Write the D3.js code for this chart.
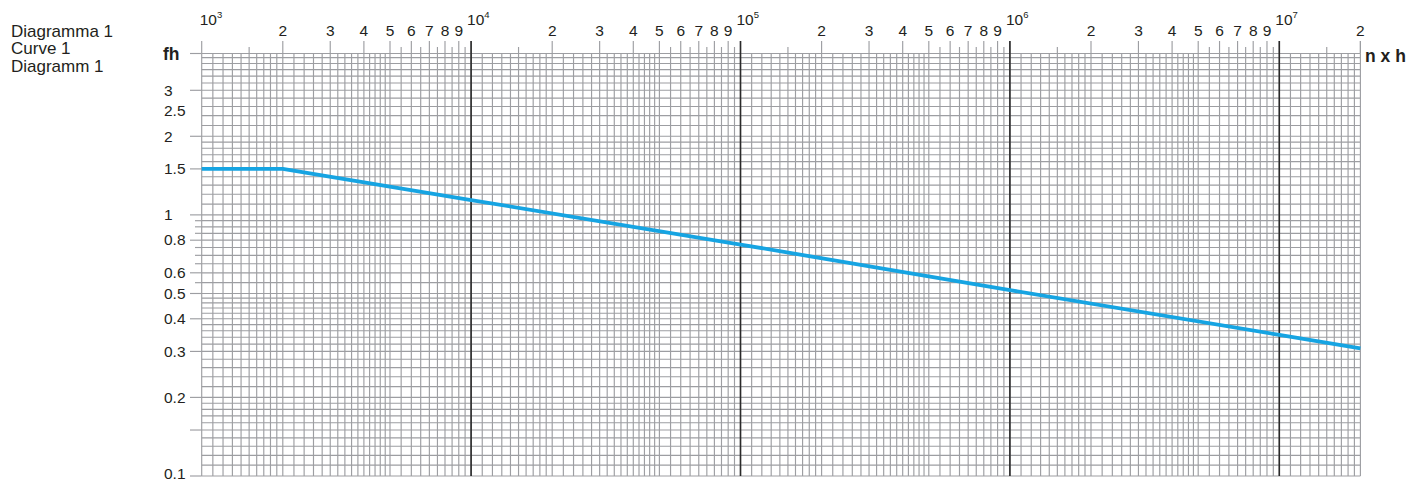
<!DOCTYPE html>
<html>
<head>
<meta charset="utf-8">
<script src="https://cdn.jsdelivr.net/npm/d3@7"></script>
<style>
  html, body { margin: 0; padding: 0; background: #fff; }
  svg { display: block; }
  text { font-family: "Liberation Sans", Arial, Helvetica, sans-serif; fill: #231f20; }
</style>
</head>
<body>
<svg id="chart" width="1424" height="482"></svg>
<script>
// ---- data ----
const titleLines = ["Diagramma 1", "Curve 1", "Diagramm 1"];
const xDecades = [3, 4, 5, 6, 7];
const xDigitLabels = [2, 3, 4, 5, 6, 7, 8, 9];
const xHalfTicks = [1.5, 5.5, 6.5, 7.5, 8.5, 9.5];
const xMin = 1e3, xMax = 2e7;
const yMin = 0.1, yMax = 4.15;
const yDecades = [-1, 0];
const yLabelValues = [3, 2.5, 2, 1.5, 1, 0.8, 0.6, 0.5, 0.4, 0.3, 0.2, 0.1];
const yLongTicks = [3, 2, 1.5, 1, 0.8, 0.6, 0.5, 0.4, 0.3, 0.2, 0.15, 0.1];
const yShortTicks = [0.95, 0.9, 0.85, 0.75, 0.7, 0.65, 0.55];
const curveN  = [1e3, 2e3, 1e4, 1e5, 1e6, 1e7, 2e7];
const curveFh = [1.5, 1.5, 1.14, 0.77, 0.515, 0.347, 0.308];
const yAxisTitle = "fh";
const xAxisTitle = "n x h";

// ---- layout ----
const svg = d3.select("#chart");
const x = d3.scaleLog().domain([xMin, xMax]).range([201.7, 1360.4]);
const y = d3.scaleLog().domain([yMin, yMax]).range([476, 53.5]);
const gridColor = "#9d9ea2";
const gridW = 1.15;

// mantissa subdivision rule of log paper (in tenths)
const mant = [];
for (let m = 10; m < 20; m += 1) mant.push(m);
for (let m = 20; m < 50; m += 2) mant.push(m);
for (let m = 50; m <= 100; m += 5) mant.push(m);

// horizontal grid
const hVals = [];
yDecades.forEach(d => mant.forEach(m => {
  const v = +(m / 10 * Math.pow(10, d)).toPrecision(6);
  if (v <= yMax * 1.0001 && !hVals.includes(v)) hVals.push(v);
}));
hVals.push(yMax);
const g = svg.append("g");
g.selectAll("line.h").data(hVals).join("line")
  .attr("x1", x(xMin)).attr("x2", x(xMax))
  .attr("y1", d => y(d)).attr("y2", d => y(d))
  .attr("stroke", gridColor).attr("stroke-width", gridW);

// vertical grid
const vVals = [];
xDecades.forEach(d => mant.forEach(m => {
  const v = +(m / 10 * Math.pow(10, d)).toPrecision(6);
  if (v <= xMax * 1.0001 && !vVals.includes(v)) vVals.push(v);
}));
g.selectAll("line.v").data(vVals).join("line")
  .attr("x1", d => x(d)).attr("x2", d => x(d))
  .attr("y1", y(yMax)).attr("y2", y(yMin))
  .attr("stroke", gridColor).attr("stroke-width", gridW);

// top ticks: integers long, halves short
const longX = [];
xDecades.forEach(d => {
  for (let k = 1; k <= 9; k++) { const v = k * Math.pow(10, d); if (v <= xMax * 1.0001) longX.push(v); }
});
longX.push(xMax);
g.selectAll("line.tl").data(longX).join("line")
  .attr("x1", d => x(d)).attr("x2", d => x(d))
  .attr("y1", 41).attr("y2", y(yMax))
  .attr("stroke", gridColor).attr("stroke-width", gridW);
const shortX = [];
xDecades.forEach(d => xHalfTicks.forEach(h => { const v = h * Math.pow(10, d); if (v <= xMax) shortX.push(v); }));
g.selectAll("line.ts").data(shortX).join("line")
  .attr("x1", d => x(d)).attr("x2", d => x(d))
  .attr("y1", 47).attr("y2", y(yMax))
  .attr("stroke", gridColor).attr("stroke-width", gridW);

// left ticks
g.selectAll("line.ll").data(yLongTicks.concat([yMax])).join("line")
  .attr("x1", 190).attr("x2", x(xMin))
  .attr("y1", d => y(d)).attr("y2", d => y(d))
  .attr("stroke", gridColor).attr("stroke-width", gridW);
g.selectAll("line.ls").data(yShortTicks).join("line")
  .attr("x1", 195).attr("x2", x(xMin))
  .attr("y1", d => y(d)).attr("y2", d => y(d))
  .attr("stroke", gridColor).attr("stroke-width", gridW);

// dark decade lines
const darkX = xDecades.slice(1).map(d => Math.pow(10, d));
g.selectAll("line.dk").data(darkX).join("line")
  .attr("x1", d => x(d)).attr("x2", d => x(d))
  .attr("y1", 41).attr("y2", y(yMin))
  .attr("stroke", "#2a2a2a").attr("stroke-width", 1.6);

// curve
const pts = curveN.map((n, i) => [n, curveFh[i]]);
svg.append("path").datum(pts)
  .attr("d", d3.line().x(d => x(d[0])).y(d => y(d[1])))
  .attr("fill", "none").attr("stroke", "#16a4e2").attr("stroke-width", 3.8)
  .attr("stroke-linejoin", "round");

// x labels
const lab = svg.append("g");
xDecades.forEach((d, i) => {
  const t = lab.append("text")
    .attr("x", x(Math.pow(10, d)) - (i === 0 ? 2 : 4)).attr("y", 25)
    .attr("font-size", 15.5);
  t.append("tspan").text("10");
  t.append("tspan").attr("dy", -7).attr("font-size", 9.5).text(d);
  xDigitLabels.forEach(k => {
    const v = k * Math.pow(10, d);
    if (v <= xMax * 1.0001) {
      lab.append("text").attr("x", x(v)).attr("y", 36)
        .attr("text-anchor", "middle").attr("font-size", 15.5).text(k);
    }
  });
});

// y labels
lab.selectAll("text.yl").data(yLabelValues).join("text")
  .attr("x", 164).attr("y", d => Math.min(y(d) + 5.3, 479))
  .attr("font-size", 15.5).text(d => String(d));

// axis titles
lab.append("text").attr("x", 163).attr("y", 59.5)
  .attr("font-size", 17.5).attr("font-weight", "bold").text(yAxisTitle);
lab.append("text").attr("x", 1365).attr("y", 62)
  .attr("font-size", 17.5).attr("font-weight", "bold").text(xAxisTitle);

// title block
lab.selectAll("text.tt").data(titleLines).join("text")
  .attr("x", 11).attr("y", (d, i) => 36.5 + i * 17.5)
  .attr("font-size", 17).text(d => d);
</script>
</body>
</html>
